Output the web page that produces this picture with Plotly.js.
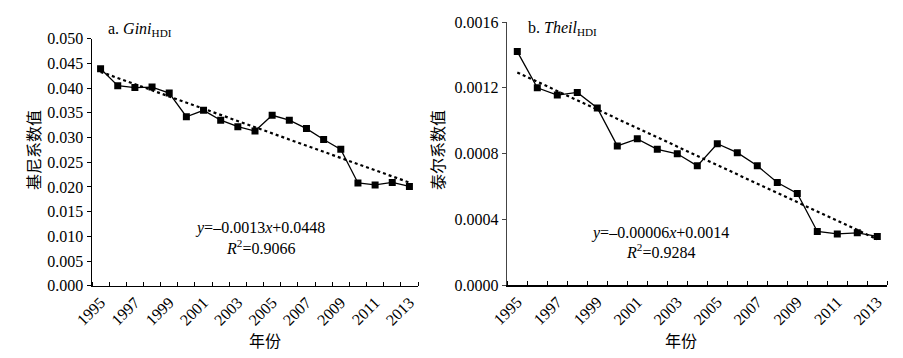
<!DOCTYPE html>
<html>
<head>
<meta charset="utf-8">
<script src="https://cdn.plot.ly/plotly-3.0.1.min.js"></script>
<style>html,body{margin:0;padding:0;background:#fff;}#chart{width:903px;height:358px;}</style>
</head>
<body>
<div id="chart"></div>
<script>
const years = [1995,1996,1997,1998,1999,2000,2001,2002,2003,2004,2005,2006,2007,2008,2009,2010,2011,2012,2013];
const giniHDI = [0.0439,0.0405,0.0401,0.0402,0.0390,0.0342,0.0355,0.0335,0.0322,0.0313,0.0345,0.0335,0.0318,0.0296,0.0276,0.0208,0.0204,0.0209,0.0201];
const theilHDI = [0.00142,0.00120,0.001156,0.001172,0.001078,0.000847,0.000890,0.000826,0.000799,0.000726,0.000860,0.000806,0.000726,0.000625,0.000558,0.000327,0.000312,0.000319,0.000297];
const yearTickLabels = [1995,1997,1999,2001,2003,2005,2007,2009,2011,2013];
const giniTicks = [0,0.005,0.010,0.015,0.020,0.025,0.030,0.035,0.040,0.045,0.050];
const theilTicks = [0,0.0004,0.0008,0.0012,0.0016];

function linFit(vals){
  const n = vals.length; let sx=0, sy=0, sxx=0, sxy=0;
  vals.forEach((v,i)=>{const x=i+1; sx+=x; sy+=v; sxx+=x*x; sxy+=x*v;});
  const b = (n*sxy - sx*sy)/(n*sxx - sx*sx);
  const a = (sy - b*sx)/n;
  return vals.map((v,i)=>a + b*(i+1));
}

const W = 903, H = 358;
const px = x => x / W;
const py = y => 1 - y / H;
const serif = "Liberation Serif, Times New Roman, serif";
const cjk = "Noto Sans CJK SC, sans-serif";

const lineStyle = {color:'#000', width:1.3};
const markerStyle = {symbol:'square', size:7, color:'#000'};
const trendStyle = {color:'#000', width:2.2, dash:'dot'};

const traces = [
  {x: years, y: linFit(giniHDI), xaxis:'x', yaxis:'y', mode:'lines', line: trendStyle, hoverinfo:'skip'},
  {x: years, y: giniHDI, xaxis:'x', yaxis:'y', mode:'lines+markers', line: lineStyle, marker: markerStyle},
  {x: years, y: linFit(theilHDI), xaxis:'x2', yaxis:'y2', mode:'lines', line: trendStyle, hoverinfo:'skip'},
  {x: years, y: theilHDI, xaxis:'x2', yaxis:'y2', mode:'lines+markers', line: lineStyle, marker: markerStyle}
];

function xAxis(domain, anchor){
  return {
    domain: domain, anchor: anchor, range:[1994.5, 2013.5], type:'linear',
    tickmode:'array', tickvals: yearTickLabels, ticktext: yearTickLabels.map(String),
    ticks:'', tickangle:-45, tickfont:{family:serif, size:16, color:'#000'},
    showline:true, linecolor:'#000', linewidth:1.3, showgrid:false, zeroline:false,
    minor:{tick0:1994.5, dtick:1, ticks:'inside', ticklen:4, tickcolor:'#000', tickwidth:1, showgrid:false}
  };
}
function yAxis(domain, anchor, rng, tv, fmt, lc){
  return {
    domain: domain, anchor: anchor, range: rng, tickmode:'array', tickvals: tv,
    tickformat: fmt, ticks:'outside', ticklen:4, tickcolor:lc, tickwidth:1,
    tickfont:{family:serif, size:16, color:'#000'},
    showline:true, linecolor:lc, linewidth:1.5, showgrid:false, zeroline:false
  };
}

const layout = {
  width: W, height: H, autosize:false, showlegend:false,
  margin:{l:0,r:0,t:0,b:0}, paper_bgcolor:'#fff', plot_bgcolor:'#fff',
  xaxis: xAxis([px(92), px(418)], 'y'),
  yaxis: yAxis([py(285.7), py(38.7)], 'x', [0,0.05], giniTicks, '.3f', '#000'),
  xaxis2: xAxis([px(507.3), px(887.3)], 'y2'),
  yaxis2: yAxis([py(285.3), py(22)], 'x2', [0,0.0016], theilTicks, '.4f', '#444'),
  annotations: [
    {text:'a. <i>Gini</i><sub>HDI</sub>', x:px(106), y:py(30), xref:'paper', yref:'paper', xanchor:'left', yanchor:'middle', showarrow:false, font:{family:serif, size:16, color:'#000'}},
    {text:'b. <i>Theil</i><sub>HDI</sub>', x:px(526), y:py(28), xref:'paper', yref:'paper', xanchor:'left', yanchor:'middle', showarrow:false, font:{family:serif, size:16, color:'#000'}},
    {text:'<i>y</i>=–0.0013<i>x</i>+0.0448', x:px(260), y:py(228), xref:'paper', yref:'paper', xanchor:'center', yanchor:'middle', showarrow:false, font:{family:serif, size:16, color:'#000'}},
    {text:'<i>R</i><sup>2</sup>=0.9066', x:px(260), y:py(247), xref:'paper', yref:'paper', xanchor:'center', yanchor:'middle', showarrow:false, font:{family:serif, size:16, color:'#000'}},
    {text:'<i>y</i>=–0.00006<i>x</i>+0.0014', x:px(660), y:py(233), xref:'paper', yref:'paper', xanchor:'center', yanchor:'middle', showarrow:false, font:{family:serif, size:16, color:'#000'}},
    {text:'<i>R</i><sup>2</sup>=0.9284', x:px(660), y:py(251), xref:'paper', yref:'paper', xanchor:'center', yanchor:'middle', showarrow:false, font:{family:serif, size:16, color:'#000'}},
    {text:'基尼系数值', x:px(33), y:py(150), xref:'paper', yref:'paper', xanchor:'center', yanchor:'middle', textangle:-90, showarrow:false, font:{family:cjk, size:16, color:'#000'}},
    {text:'泰尔系数值', x:px(437), y:py(150), xref:'paper', yref:'paper', xanchor:'center', yanchor:'middle', textangle:-90, showarrow:false, font:{family:cjk, size:16, color:'#000'}},
    {text:'年份', x:px(265), y:py(340), xref:'paper', yref:'paper', xanchor:'center', yanchor:'middle', showarrow:false, font:{family:cjk, size:16, color:'#000'}},
    {text:'年份', x:px(681), y:py(340), xref:'paper', yref:'paper', xanchor:'center', yanchor:'middle', showarrow:false, font:{family:cjk, size:16, color:'#000'}}
  ]
};

Plotly.newPlot('chart', traces, layout, {staticPlot:true, displayModeBar:false});
</script>
</body>
</html>
